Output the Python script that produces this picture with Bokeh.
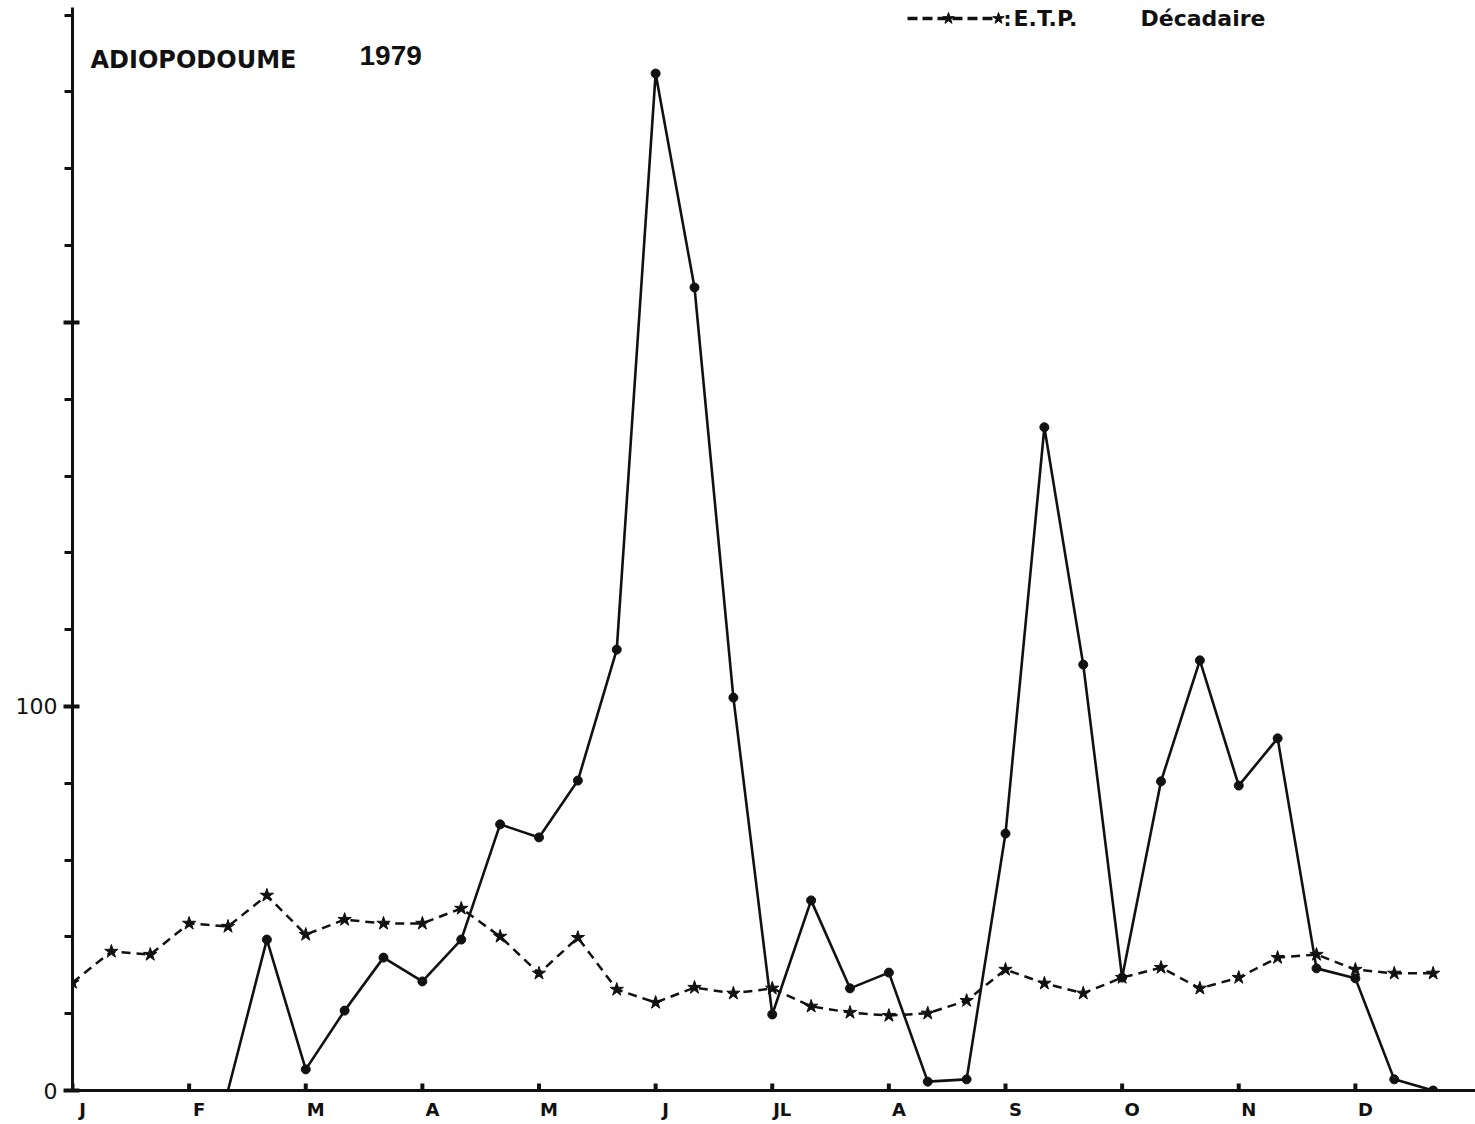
import numpy as np
from bokeh.plotting import figure
from bokeh.models import FixedTicker, Label, ColumnDataSource, CustomJSTickFormatter
from bokeh.embed import file_html
from bokeh.resources import INLINE

# Ten-day periods (decades) of 1979, 36 per year
decades = list(range(36))

# E.T.P. décadaire (mm)
etp = [28.1, 36.2, 35.4, 43.5, 42.7, 50.8, 40.6, 44.5, 43.5, 43.5, 47.4, 40.1,
       30.5, 39.8, 26.3, 22.9, 26.8, 25.3, 26.6, 21.9, 20.3, 19.5, 20.1, 23.4,
       31.5, 27.9, 25.3, 29.4, 32.0, 26.6, 29.4, 34.6, 35.4, 31.5, 30.5, 30.5]

# Rainfall per decade (mm); no record for the first four decades
rain = [None, None, None, None,
        0.0, 39.3, 5.5, 20.8, 34.6, 28.4, 39.3, 69.3, 65.9, 80.7, 114.8, 264.8,
        209.1, 102.3, 19.8, 49.5, 26.6, 30.7, 2.3, 2.9, 66.9, 172.7, 110.9, 29.4,
        80.5, 112.0, 79.4, 91.7, 31.8, 29.2, 2.9, 0.0]

month_ticks = [0, 3, 6, 9, 12, 15, 18, 21, 24, 27, 30, 33]
month_labels = ["J", "F", "M", "A", "M", "J", "JL", "A", "S", "O", "N", "D"]

y_major = [0, 100, 200]
y_minor = [20, 40, 60, 80, 120, 140, 160, 180, 220, 240, 260, 280]

W, H = 1475, 1124
LEFT, BOTTOM, TOP = 72, 34, 7
X_END, Y_END = 36.09, 282
PX_PER_DEC = (W - LEFT) / X_END
PX_PER_MM = (H - BOTTOM - TOP) / Y_END


def px2x(px):
    return (px - LEFT) / PX_PER_DEC


def px2y(py):
    return (H - BOTTOM - py) / PX_PER_MM


INK = "#111111"

p = figure(width=W, height=H, x_range=(0, X_END), y_range=(0, Y_END),
           output_backend="svg", toolbar_location=None,
           min_border_left=LEFT, min_border_right=0,
           min_border_top=TOP, min_border_bottom=BOTTOM)
p.outline_line_color = None
p.xgrid.visible = False
p.ygrid.visible = False
p.background_fill_color = "white"
p.border_fill_color = "white"

# y axis: labelled ticks at 0 and 100, crossing ticks at 100 and 200
ya = p.yaxis[0]
ya.ticker = FixedTicker(ticks=y_major, minor_ticks=y_minor)
ya.major_label_overrides = {0: "0", 100: "100", 200: ""}
ya.axis_line_width = 3
ya.axis_line_color = INK
ya.major_tick_in = 7
ya.major_tick_out = 9
ya.major_tick_line_width = 4
ya.major_tick_line_color = INK
ya.minor_tick_in = 0
ya.minor_tick_out = 8
ya.minor_tick_line_width = 3
ya.minor_tick_line_color = INK
ya.major_label_standoff = 6
ya.major_label_text_font = "DejaVu Sans"
ya.major_label_text_font_size = "22px"
ya.major_label_text_color = INK

# x axis: month names set a little to the right of each month mark
shift = 10 / PX_PER_DEC
xa = p.xaxis[0]
xa.ticker = FixedTicker(ticks=[t + shift for t in month_ticks], minor_ticks=[])
xa.formatter = CustomJSTickFormatter(
    args=dict(labels=month_labels, shift=shift),
    code="return labels[Math.round((tick - shift) / 3)];")
xa.axis_line_width = 3
xa.axis_line_color = INK
xa.major_tick_in = 0
xa.major_tick_out = 0
xa.major_label_standoff = 8
xa.major_label_text_font = "DejaVu Sans"
xa.major_label_text_font_style = "bold"
xa.major_label_text_font_size = "18px"
xa.major_label_text_color = INK

# month marks standing on the x axis
mark_h = 7 / PX_PER_MM
p.segment(x0=month_ticks, y0=[0] * len(month_ticks),
          x1=month_ticks, y1=[mark_h] * len(month_ticks),
          line_color=INK, line_width=4)

# E.T.P. series: dashed line with stars
src_etp = ColumnDataSource(dict(x=decades, y=etp))
p.line("x", "y", source=src_etp, line_color=INK, line_width=2.5, line_dash="9 6")
p.scatter("x", "y", source=src_etp, marker="star", size=14,
          fill_color=INK, line_color=INK, line_width=1)

# Rainfall series: solid line with dots
rain_arr = np.array([np.nan if v is None else v for v in rain], dtype=float)
src_rain = ColumnDataSource(dict(x=decades, y=rain_arr))
p.line("x", "y", source=src_rain, line_color=INK, line_width=2.6)
has = ~np.isnan(rain_arr)
p.scatter(np.array(decades)[has][1:], rain_arr[has][1:], marker="circle", size=9,
          fill_color=INK, line_color=INK)

# Title
p.add_layout(Label(x=px2x(90), y=px2y(59), text="ADIOPODOUME",
                   text_align="left", text_baseline="middle",
                   text_font="DejaVu Sans", text_font_style="bold",
                   text_font_size="24px", text_color=INK))
p.add_layout(Label(x=px2x(359), y=px2y(55), text="1979",
                   text_align="left", text_baseline="middle",
                   text_font="Liberation Sans", text_font_style="bold",
                   text_font_size="28px", text_color=INK))

# Key for the E.T.P. curve
ky = px2y(18)
p.line([px2x(907), px2x(1000)], [ky, ky], line_color=INK, line_width=3.5,
       line_dash="10 5")
p.scatter([px2x(948), px2x(998)], [ky, ky], marker="star", size=12,
          fill_color=INK, line_color=INK)
p.add_layout(Label(x=px2x(1003), y=ky, text=":", text_align="left",
                   text_baseline="middle", text_font="DejaVu Sans",
                   text_font_style="bold", text_font_size="20px", text_color=INK))
p.add_layout(Label(x=px2x(1013), y=ky, text="E.T.P.", text_align="left",
                   text_baseline="middle", text_font="DejaVu Sans",
                   text_font_style="bold", text_font_size="22px", text_color=INK))
p.add_layout(Label(x=px2x(1140), y=ky, text="Décadaire", text_align="left",
                   text_baseline="middle", text_font="DejaVu Sans",
                   text_font_style="bold", text_font_size="22px", text_color=INK))

open("out.html", "w").write(file_html(p, INLINE))
